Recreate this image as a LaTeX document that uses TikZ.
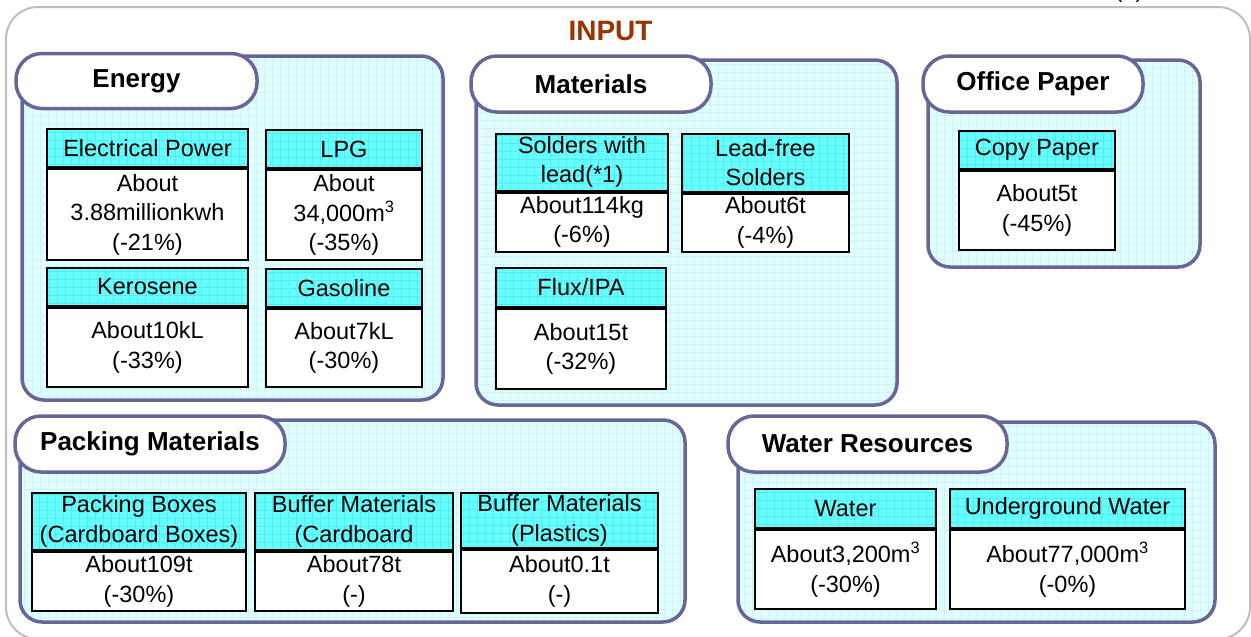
\documentclass[tikz,border=0pt]{standalone}
\usepackage{fontspec}
\setmainfont{Liberation Sans}
\usetikzlibrary{positioning}
\definecolor{panelline}{RGB}{102,102,153}
\definecolor{panelfill}{RGB}{226,255,255}
\definecolor{panelgrid}{RGB}{204,244,247}
\definecolor{headfill}{RGB}{102,255,255}
\definecolor{headgrid}{RGB}{84,234,238}
\definecolor{framegray}{RGB}{190,190,190}
\definecolor{inputred}{RGB}{153,51,0}
\newcommand\bodysize{\fontsize{23.5}{29.5}\selectfont}
\newcommand\tabsize{\bfseries\fontsize{26}{30}\selectfont}
\tikzset{
  gridded/.style={path picture={\draw[#1, line width=0.5pt, step=8pt] (path picture bounding box.south west) grid (path picture bounding box.north east);}},
  panel/.style={draw=panelline, line width=3.5pt, fill=panelfill, rounded corners=22pt, inner sep=0pt, gridded=panelgrid},
  tab/.style={draw=panelline, line width=3.5pt, fill=white, rounded corners=26pt, inner sep=0pt, font=\tabsize},
  head/.style={draw=black, line width=2pt, fill=headfill, inner sep=0pt, align=center, font=\bodysize, gridded=headgrid},
  body/.style={draw=black, line width=2pt, fill=white, inner sep=0pt, align=center, font=\bodysize, anchor=north},
}
\begin{document}
\begin{tikzpicture}[x=1pt, y=-1pt]
    \useasboundingbox (0,0) rectangle (1251,637);
    \clip (0,0) rectangle (1251,637);
    %Frame
    \draw[framegray, line width=2pt, rounded corners=32pt] (6,7) rectangle (1250,639);
    \node[font=\bodysize, anchor=base] (note) at (1129,-2) {(1)};
    \node[font=\bfseries\fontsize{28}{32}\selectfont, text=inputred] (input) at (610.5,31) {INPUT};
    %Energy
    \node[panel, minimum width=421pt, minimum height=344pt] (energy) at (232.5,228) {};
    \node[tab, minimum width=241pt, minimum height=55pt] (energytab) at (136.5,81) {Energy};
    \node[head, minimum width=201pt, minimum height=38pt] (elechead) at (147.5,148) {Electrical Power};
    \node[body, minimum width=201pt, minimum height=91pt] (elecbody) at (elechead.south) {About\\3.88millionkwh\\(-21\%)};
    \node[head, minimum width=156pt, minimum height=38pt] (lpghead) at (344,149) {LPG};
    \node[body, minimum width=156pt, minimum height=90pt] (lpgbody) at (lpghead.south) {About\\34,000m\textsuperscript{3}\\(-35\%)};
    \node[head, minimum width=201pt, minimum height=38pt] (kerohead) at (147.5,287) {Kerosene};
    \node[body, minimum width=201pt, minimum height=79pt] (kerobody) at (kerohead.south) {About10kL\\(-33\%)};
    \node[head, minimum width=156pt, minimum height=38pt] (gashead) at (344,288) {Gasoline};
    \node[body, minimum width=156pt, minimum height=78pt] (gasbody) at (gashead.south) {About7kL\\(-30\%)};
    %Materials
    \node[panel, minimum width=421pt, minimum height=345pt] (materials) at (686.5,232.5) {};
    \node[tab, minimum width=240pt, minimum height=56pt] (mattab) at (591,84) {Materials};
    \node[head, minimum width=172pt, minimum height=57pt] (solhead) at (582,162) {Solders with\\lead(*1)};
    \node[body, minimum width=172pt, minimum height=59pt] (solbody) at (solhead.south) {About114kg\\(-6\%)};
    \node[head, minimum width=167pt, minimum height=58pt] (freehead) at (765.5,162.5) {Lead-free\\Solders};
    \node[body, minimum width=167pt, minimum height=58pt] (freebody) at (freehead.south) {About6t\\(-4\%)};
    \node[head, minimum width=170pt, minimum height=39pt] (fluxhead) at (581,287.5) {Flux/IPA};
    \node[body, minimum width=170pt, minimum height=80pt] (fluxbody) at (fluxhead.south) {About15t\\(-32\%)};
    %Office Paper
    \node[panel, minimum width=272pt, minimum height=207pt] (office) at (1064,163.5) {};
    \node[tab, minimum width=220pt, minimum height=56pt] (officetab) at (1033,84) {Office Paper};
    \node[head, minimum width=156pt, minimum height=38pt] (copyhead) at (1037,150) {Copy Paper};
    \node[body, minimum width=156pt, minimum height=79pt] (copybody) at (copyhead.south) {About5t\\(-45\%)};
    %Packing Materials
    \node[panel, minimum width=665pt, minimum height=202pt] (packing) at (352.5,521) {};
    \node[tab, minimum width=270pt, minimum height=56pt] (packtab) at (150,444) {Packing Materials};
    \node[head, minimum width=214pt, minimum height=57pt] (boxhead) at (139,521.5) {Packing Boxes\\(Cardboard Boxes)};
    \node[body, minimum width=214pt, minimum height=59pt] (boxbody) at (boxhead.south) {About109t\\(-30\%)};
    \node[head, minimum width=198pt, minimum height=57pt] (bufhead) at (354,521.5) {Buffer Materials\\(Cardboard};
    \node[body, minimum width=198pt, minimum height=59pt] (bufbody) at (bufhead.south) {About78t\\(-)};
    \node[head, minimum width=197pt, minimum height=55pt] (plashead) at (559.5,520.5) {Buffer Materials\\(Plastics)};
    \node[body, minimum width=197pt, minimum height=63pt] (plasbody) at (plashead.south) {About0.1t\\(-)};
    %Water Resources
    \node[panel, minimum width=477pt, minimum height=200pt] (water) at (976.5,522) {};
    \node[tab, minimum width=279pt, minimum height=56pt] (watertab) at (867.5,444) {Water Resources};
    \node[head, minimum width=181pt, minimum height=39pt] (waterhead) at (845.5,508.5) {Water};
    \node[body, minimum width=181pt, minimum height=79pt] (waterbody) at (waterhead.south) {About3,200m\textsuperscript{3}\\(-30\%)};
    \node[head, minimum width=235pt, minimum height=39pt] (underhead) at (1067.5,508.5) {Underground Water};
    \node[body, minimum width=235pt, minimum height=79pt] (underbody) at (underhead.south) {About77,000m\textsuperscript{3}\\(-0\%)};
\end{tikzpicture}
\end{document}
